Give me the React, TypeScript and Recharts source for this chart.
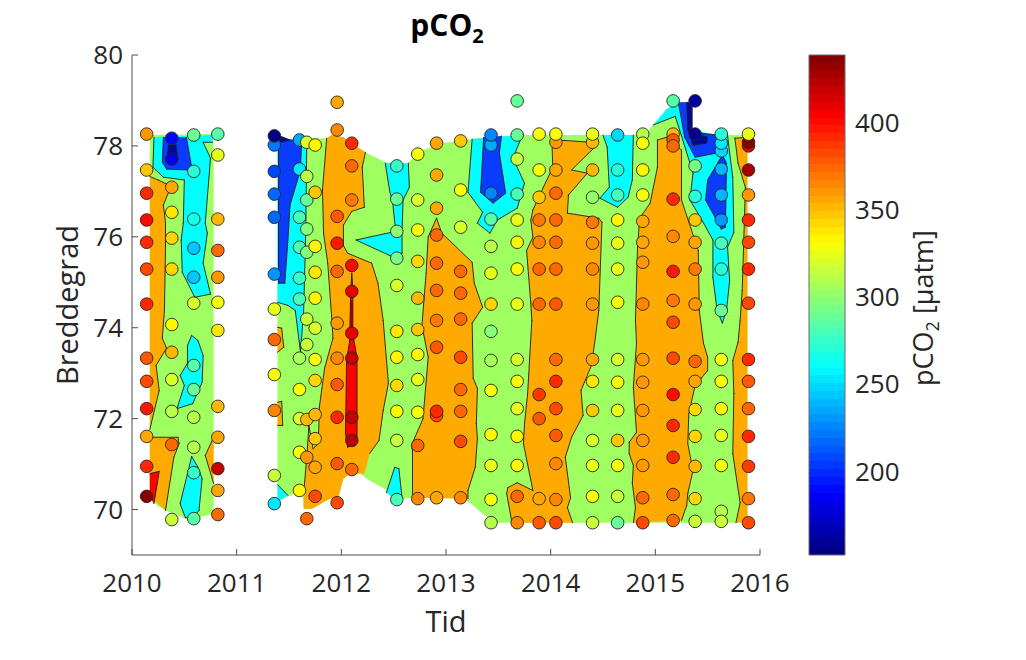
import { ScatterChart, Scatter, XAxis, YAxis } from "recharts";

type Pt = [number, number];
type Station = [number, number]; // latitude, pCO2

const FONT = "'Open Sans', sans-serif";
const GREEN = "#9fff60";
const ORANGE = "#ffaa00";
const CYAN = "#00ffff";
const BLUE = "#0a3cff";
const NAVY = "#000a96";
const RED = "#ff0000";

const yearTicks = [2010, 2011, 2012, 2013, 2014, 2015, 2016];
const latTicks = [70, 72, 74, 76, 78, 80];
const pco2Ticks = [200, 250, 300, 350, 400];
const PCO2_MIN = 152;
const PCO2_MAX = 439;

const cruiseYears = [
  2010.14, 2010.38, 2010.59, 2010.82, 2011.36, 2011.6, 2011.67, 2011.75, 2011.96, 2012.1, 2012.53, 2012.73, 2012.91,
  2013.14, 2013.43, 2013.68, 2013.89, 2014.05, 2014.4, 2014.64, 2014.88, 2015.17, 2015.38, 2015.63, 2015.89,
];

const c01: Station[] = [[78.26, 362], [77.47, 348], [76.96, 392], [76.37, 403], [75.88, 390], [75.29, 385], [74.52, 392], [73.33, 378], [72.82, 385], [72.22, 398], [71.61, 358], [70.95, 390], [70.29, 435]];
const c02: Station[] = [[78.17, 190], [77.71, 180], [77.09, 356], [76.54, 336], [75.97, 342], [75.29, 342], [74.07, 334], [73.46, 352], [72.86, 320], [72.16, 310], [71.43, 372], [69.78, 316]];
const c03: Station[] = [[78.24, 290], [77.44, 270], [76.39, 268], [75.75, 245], [75.11, 243], [74.54, 318], [73.17, 283], [72.64, 288], [72.03, 310], [71.37, 312], [70.81, 275], [69.8, 285]];
const c04: Station[] = [[78.26, 283], [77.8, 325], [76.39, 350], [75.7, 372], [75.11, 362], [74.56, 328], [73.94, 336], [72.27, 352], [71.59, 356], [70.9, 418], [70.42, 358], [69.89, 372]];
const c05: Station[] = [[78.02, 220], [77.44, 206], [76.94, 215], [76.43, 215], [75.18, 232], [74.41, 324], [73.74, 376], [72.97, 330], [72.18, 366], [70.75, 314], [70.13, 252], [78.22, 155]];
const c06: Station[] = [[78.13, 235], [77.49, 255], [76.43, 280], [75.77, 280], [75.09, 276], [74.63, 280], [73.33, 305], [72.64, 331], [72.0, 320], [71.26, 331], [70.42, 333]];
const c07: Station[] = [[78.08, 318], [77.33, 312], [76.81, 288], [76.17, 298], [75.66, 298], [74.19, 314], [73.63, 314], [71.98, 352], [71.15, 360], [69.8, 372]];
const c08: Station[] = [[78.02, 333], [76.98, 346], [75.79, 333], [75.22, 336], [74.65, 334], [73.99, 322], [73.3, 331], [72.84, 344], [72.09, 350], [71.56, 348], [70.93, 355], [70.29, 382]];
const c09: Station[] = [[78.96, 358], [78.35, 365], [76.45, 380], [75.86, 396], [75.24, 372], [74.1, 362], [73.33, 365], [72.75, 380], [72.03, 394], [71.01, 378], [70.15, 384]];
const c10: Station[] = [[78.06, 392], [77.56, 376], [76.81, 370], [75.37, 403], [74.8, 412], [73.88, 410], [73.33, 420], [72.03, 420], [71.52, 425], [70.88, 376]];
const c11: Station[] = [[77.56, 275], [76.83, 290], [76.12, 298], [75.53, 292], [74.93, 320], [73.92, 336], [73.35, 335], [72.73, 342], [72.16, 332], [71.52, 315], [70.22, 280]];
const c12: Station[] = [[77.82, 330], [76.81, 322], [76.15, 330], [75.46, 342], [74.65, 350], [73.96, 345], [73.41, 333], [72.86, 324], [72.14, 328], [71.41, 376], [70.24, 366]];
const c13: Station[] = [[78.06, 355], [77.36, 356], [76.63, 357], [76.04, 372], [75.42, 372], [74.82, 372], [74.16, 370], [73.57, 378], [72.07, 382], [72.16, 390], [70.26, 358]];
const c14: Station[] = [[78.11, 345], [77.03, 328], [76.21, 320], [75.24, 374], [74.76, 374], [74.19, 374], [73.35, 385], [72.64, 376], [72.16, 376], [71.5, 382], [70.26, 366]];
const c15: Station[] = [[78.02, 235], [78.24, 226], [76.96, 226], [76.39, 285], [75.79, 312], [75.2, 324], [74.52, 342], [73.92, 298], [73.28, 306], [72.62, 331], [71.65, 333], [70.97, 326], [70.22, 330], [69.71, 310]];
const c16: Station[] = [[78.99, 290], [78.24, 290], [77.71, 314], [76.94, 282], [76.37, 324], [75.88, 332], [75.29, 330], [74.52, 326], [73.3, 322], [72.82, 328], [72.22, 326], [71.61, 335], [70.97, 332], [70.29, 372], [69.71, 366]];
const c17: Station[] = [[78.26, 331], [77.47, 331], [76.87, 346], [76.37, 370], [75.88, 365], [75.29, 376], [74.52, 372], [72.53, 386], [72.0, 380], [70.24, 356], [69.71, 380]];
const c18: Station[] = [[78.08, 360], [78.26, 331], [77.47, 358], [76.96, 376], [76.37, 372], [75.88, 376], [75.29, 374], [74.52, 380], [73.3, 374], [72.82, 392], [72.22, 384], [71.63, 378], [71.01, 365], [70.22, 366], [69.71, 385]];
const c19: Station[] = [[78.08, 350], [78.26, 326], [77.47, 352], [76.87, 304], [76.32, 370], [75.86, 362], [75.29, 366], [74.52, 362], [73.3, 358], [72.82, 336], [72.18, 348], [71.52, 322], [70.97, 325], [70.29, 331], [69.71, 315]];
const c20: Station[] = [[78.24, 248], [77.47, 270], [76.92, 280], [76.37, 335], [75.86, 324], [75.29, 326], [74.56, 330], [73.3, 320], [72.8, 328], [72.18, 325], [71.52, 346], [70.97, 331], [70.29, 314], [69.71, 290]];
const c21: Station[] = [[78.26, 310], [78.06, 331], [77.47, 333], [76.92, 331], [76.34, 358], [75.88, 356], [75.44, 360], [74.52, 366], [73.3, 360], [72.8, 362], [72.18, 362], [71.52, 362], [70.97, 360], [70.26, 376], [69.71, 384]];
const c22: Station[] = [[78.99, 285], [78.26, 350], [78.13, 378], [78.0, 376], [76.83, 392], [76.01, 366], [75.24, 396], [74.6, 370], [74.12, 382], [73.33, 384], [72.53, 400], [71.85, 390], [71.15, 394], [70.33, 374], [69.76, 372]];
const c23: Station[] = [[78.99, 160], [78.26, 160], [77.56, 292], [76.89, 270], [76.37, 346], [75.88, 354], [75.29, 370], [74.52, 362], [73.26, 376], [72.82, 356], [72.2, 342], [71.61, 342], [70.95, 350], [70.24, 344], [69.74, 316]];
const c24: Station[] = [[77.89, 248], [78.06, 255], [78.26, 272], [77.49, 238], [76.92, 240], [76.37, 232], [75.86, 280], [75.29, 270], [74.38, 290], [73.3, 331], [72.82, 328], [72.22, 332], [71.63, 326], [70.97, 331], [69.96, 312], [69.74, 316]];
const c25: Station[] = [[78.0, 410], [78.08, 435], [78.26, 325], [77.47, 430], [76.92, 360], [76.37, 390], [75.88, 385], [75.29, 390], [74.54, 385], [73.3, 390], [72.82, 380], [72.22, 376], [71.61, 390], [70.95, 388], [70.24, 368], [69.71, 385]];
const cruises = [c01, c02, c03, c04, c05, c06, c07, c08, c09, c10, c11, c12, c13, c14, c15, c16, c17, c18, c19, c20, c21, c22, c23, c24, c25];

// contour bands as [year, latitude]
const base2010: Pt[] = [[2010.17, 78.24], [2010.78, 78.26], [2010.78, 69.91], [2010.58, 69.8], [2010.51, 69.8], [2010.32, 69.98], [2010.24, 70.09], [2010.17, 70.26]];
const baseMain: Pt[] = [[2011.39, 78.15], [2011.86, 78.17], [2011.91, 78.24], [2012.02, 78.19], [2012.1, 78.06], [2012.23, 77.86], [2012.42, 77.64], [2012.63, 77.62], [2012.78, 77.91], [2012.97, 78.06], [2013.25, 78.15], [2013.37, 78.19], [2013.74, 78.24], [2014.92, 78.24], [2014.95, 78.39], [2014.98, 78.46], [2015.06, 78.68], [2015.11, 78.81], [2015.22, 78.96], [2015.35, 78.96], [2015.35, 78.35], [2015.59, 78.24], [2015.88, 78.24], [2015.88, 69.71], [2013.49, 69.71], [2013.35, 69.91], [2013.23, 70.15], [2013.16, 70.26], [2012.68, 70.26], [2012.59, 70.24], [2012.44, 70.42], [2012.27, 70.64], [2012.18, 70.79], [2012.08, 70.79], [2012.02, 70.68], [2011.97, 70.26], [2011.89, 70.24], [2011.72, 70.02], [2011.64, 70.02], [2011.63, 70.44], [2011.51, 70.31], [2011.41, 70.2], [2011.39, 70.2]];

const orange2010a: Pt[] = [[2010.17, 77.33], [2010.25, 77.25], [2010.33, 77.16], [2010.35, 76.98], [2010.3, 76.7], [2010.32, 76.3], [2010.32, 75.77], [2010.31, 74.38], [2010.29, 73.77], [2010.33, 73.55], [2010.23, 73.17], [2010.26, 72.62], [2010.17, 71.76]];
const orange2010b: Pt[] = [[2010.17, 71.59], [2010.44, 71.59], [2010.45, 71.45], [2010.4, 71.15], [2010.32, 69.98], [2010.25, 70.13], [2010.17, 70.26]];
const red2010: Pt[] = [[2010.17, 70.79], [2010.26, 70.84], [2010.21, 70.13], [2010.17, 70.26]];
const orange2010c: Pt[] = [[2010.78, 71.59], [2010.7, 71.19], [2010.78, 70.57]];
const cyan2010a: Pt[] = [[2010.77, 78.24], [2010.77, 78.08], [2010.68, 78.08], [2010.75, 77.73], [2010.7, 76.3], [2010.72, 76.08], [2010.68, 75.42], [2010.75, 74.74], [2010.6, 74.67], [2010.48, 75.22], [2010.47, 75.93], [2010.49, 76.3], [2010.5, 77.25], [2010.3, 77.31], [2010.2, 77.53], [2010.21, 78.19]];
const blue2010: Pt[] = [[2010.3, 78.19], [2010.52, 78.19], [2010.57, 77.53], [2010.54, 77.47], [2010.33, 77.49], [2010.29, 77.64]];
const navy2010: Pt[] = [[2010.35, 78.02], [2010.42, 78.02], [2010.44, 77.69], [2010.38, 77.6], [2010.33, 77.69]];
const cyan2010b: Pt[] = [[2010.57, 73.83], [2010.63, 73.72], [2010.68, 73.39], [2010.67, 72.8], [2010.58, 72.33], [2010.43, 72.22], [2010.5, 72.73], [2010.46, 72.95], [2010.53, 73.22], [2010.53, 73.61]];
const cyan2010c: Pt[] = [[2010.57, 71.17], [2010.63, 70.93], [2010.67, 70.68], [2010.64, 69.98], [2010.58, 69.82], [2010.51, 69.82], [2010.46, 70.13], [2010.53, 70.79]];

const orange2012: Pt[] = [[2011.86, 78.17], [2011.82, 77.03], [2011.83, 76.08], [2011.87, 75.42], [2011.91, 74.16], [2011.92, 73.77], [2011.84, 73.11], [2011.79, 72.25], [2011.78, 71.45], [2011.73, 71.34], [2011.69, 71.85], [2011.67, 71.15], [2011.64, 70.35], [2011.64, 70.02], [2011.72, 70.02], [2011.89, 70.24], [2011.97, 70.26], [2012.02, 70.68], [2012.08, 70.79], [2012.18, 70.79], [2012.22, 70.79], [2012.27, 71.23], [2012.36, 71.52], [2012.4, 72.18], [2012.45, 72.78], [2012.4, 74.16], [2012.35, 74.98], [2012.29, 75.42], [2012.06, 75.64], [2012.02, 75.81], [2012.02, 76.26], [2012.1, 76.56], [2012.22, 76.65], [2012.2, 77.53], [2012.23, 77.86], [2012.1, 78.06], [2012.02, 78.19], [2011.91, 78.24]];
const orangeEdgeA: Pt[] = [[2011.39, 74.01], [2011.43, 73.99], [2011.45, 73.57], [2011.39, 73.46]];
const orangeEdgeB: Pt[] = [[2011.39, 72.36], [2011.43, 72.38], [2011.44, 71.85], [2011.39, 71.85]];
const cyan2011: Pt[] = [[2011.39, 78.15], [2011.67, 78.13], [2011.66, 76.08], [2011.64, 74.38], [2011.61, 73.46], [2011.56, 74.38], [2011.49, 74.49], [2011.39, 74.56]];
const blue2011: Pt[] = [[2011.4, 78.15], [2011.62, 78.13], [2011.61, 77.47], [2011.51, 76.7], [2011.49, 75.93], [2011.46, 74.98], [2011.4, 74.98]];
const navy2011: Pt[] = [[2011.39, 78.24], [2011.51, 78.13], [2011.39, 78.06]];
const cyan2011low: Pt[] = [[2011.39, 70.55], [2011.49, 70.31], [2011.41, 70.2], [2011.39, 70.2]];
const red2012: Pt[] = [[2012.1, 75.2], [2012.11, 74.82], [2012.11, 73.83], [2012.12, 73.72], [2012.15, 73.35], [2012.15, 71.59], [2012.13, 71.45], [2012.06, 71.37], [2012.04, 71.67], [2012.05, 73.28], [2012.08, 73.72], [2012.08, 73.83], [2012.09, 74.82]];
const darkRed2012: Pt[] = [[2012.09, 74.6], [2012.11, 74.6], [2012.11, 73.9], [2012.09, 73.9]];
const cyan2012: Pt[] = [[2012.42, 77.62], [2012.64, 77.62], [2012.65, 77.09], [2012.59, 76.81], [2012.58, 76.12], [2012.58, 75.64], [2012.48, 75.57], [2012.14, 75.93], [2012.52, 76.12], [2012.49, 76.76], [2012.46, 77.03]];
const cyan2012low: Pt[] = [[2012.51, 70.93], [2012.55, 70.9], [2012.58, 70.26], [2012.51, 70.24], [2012.43, 70.37]];
const orange2013: Pt[] = [[2012.91, 76.41], [2012.96, 76.08], [2013.25, 75.44], [2013.27, 74.98], [2013.35, 74.45], [2013.25, 74.1], [2013.26, 72.89], [2013.3, 72.67], [2013.29, 71.89], [2013.3, 71.56], [2013.28, 70.93], [2013.21, 70.42], [2013.21, 70.24], [2012.68, 70.26], [2012.68, 71.3], [2012.67, 71.41], [2012.78, 72.0], [2012.83, 73.35], [2012.77, 74.05], [2012.81, 75.2], [2012.83, 76.0]];
const cyan2013: Pt[] = [[2013.25, 78.15], [2013.73, 78.24], [2013.64, 77.73], [2013.75, 77.18], [2013.68, 76.63], [2013.49, 76.37], [2013.42, 76.08], [2013.3, 76.3], [2013.35, 76.54], [2013.21, 76.98]];
const blue2013: Pt[] = [[2013.36, 78.19], [2013.53, 78.22], [2013.51, 77.84], [2013.57, 76.96], [2013.45, 76.74], [2013.33, 76.98]];
const orange2014: Pt[] = [[2014.01, 78.24], [2014.02, 77.53], [2013.93, 77.09], [2013.83, 76.59], [2013.81, 76.37], [2013.83, 75.99], [2013.77, 75.7], [2013.81, 74.54], [2013.82, 74.16], [2013.78, 72.55], [2013.75, 71.89], [2013.74, 71.45], [2013.83, 70.42], [2013.68, 70.59], [2013.59, 70.48], [2013.58, 70.35], [2013.63, 69.71], [2014.21, 69.71], [2014.16, 70.04], [2014.19, 70.26], [2014.14, 71.15], [2014.2, 71.59], [2014.31, 72.07], [2014.29, 72.62], [2014.39, 73.17], [2014.42, 73.66], [2014.46, 74.38], [2014.49, 76.32], [2014.46, 76.41], [2014.16, 76.52], [2014.17, 76.92], [2014.35, 77.4], [2014.2, 77.47], [2014.42, 77.97], [2014.39, 78.08], [2014.06, 78.13]];
const cyan2014: Pt[] = [[2014.5, 78.24], [2014.79, 78.24], [2014.78, 77.25], [2014.74, 76.87], [2014.64, 76.65], [2014.47, 76.85], [2014.56, 77.09], [2014.54, 77.97]];
const orange2015: Pt[] = [[2015.02, 78.13], [2015.02, 77.53], [2014.95, 76.74], [2014.85, 76.41], [2014.83, 75.77], [2014.81, 74.16], [2014.82, 73.66], [2014.79, 72.69], [2014.82, 71.7], [2014.75, 71.48], [2014.75, 71.23], [2014.79, 70.97], [2014.78, 70.59], [2014.81, 70.04], [2014.79, 69.71], [2015.25, 69.76], [2015.3, 70.09], [2015.31, 70.35], [2015.36, 70.86], [2015.31, 71.45], [2015.32, 72.11], [2015.38, 72.73], [2015.44, 72.89], [2015.5, 73.06], [2015.5, 73.35], [2015.46, 73.66], [2015.42, 74.38], [2015.41, 75.7], [2015.25, 76.81], [2015.25, 77.91], [2015.11, 78.19]];
const cyan2015: Pt[] = [[2014.98, 78.46], [2015.06, 78.68], [2015.11, 78.81], [2015.22, 78.96], [2015.35, 78.96], [2015.35, 78.35], [2015.59, 78.24], [2015.69, 78.24], [2015.71, 77.84], [2015.74, 77.31], [2015.75, 76.1], [2015.69, 75.77], [2015.71, 75.04], [2015.68, 74.38], [2015.64, 74.1], [2015.59, 74.38], [2015.55, 75.11], [2015.55, 75.93], [2015.43, 76.43], [2015.33, 76.81], [2015.36, 77.4], [2015.25, 78.22], [2015.19, 78.65]];
const blue2015a: Pt[] = [[2015.22, 78.96], [2015.35, 78.96], [2015.35, 78.3], [2015.59, 78.24], [2015.58, 77.84], [2015.38, 77.75], [2015.28, 78.19]];
const navy2015: Pt[] = [[2015.3, 78.96], [2015.35, 78.96], [2015.35, 78.3], [2015.5, 78.19], [2015.49, 78.06], [2015.36, 78.02], [2015.31, 78.35]];
const blue2015b: Pt[] = [[2015.64, 77.8], [2015.68, 77.62], [2015.67, 76.21], [2015.63, 76.17], [2015.57, 76.43], [2015.48, 76.81], [2015.5, 77.25], [2015.6, 77.64]];
const orangeEast: Pt[] = [[2015.76, 78.17], [2015.88, 78.19], [2015.88, 69.74], [2015.77, 69.71], [2015.81, 70.15], [2015.74, 71.23], [2015.75, 72.55], [2015.74, 73.28], [2015.79, 73.68], [2015.81, 74.16], [2015.83, 74.82], [2015.85, 76.3], [2015.86, 77.09], [2015.79, 77.62]];

// open = indexes of the segments that lie on the data edge and get no contour line
const bands: { pts: Pt[]; fill: string; open?: number[]; noLine?: boolean }[] = [
  { pts: base2010, fill: GREEN, noLine: true },
  { pts: baseMain, fill: GREEN, noLine: true },
  { pts: orange2010a, fill: ORANGE, open: [12] },
  { pts: orange2010b, fill: ORANGE, open: [4, 5, 6] },
  { pts: red2010, fill: RED, open: [2, 3] },
  { pts: orange2010c, fill: ORANGE, open: [2] },
  { pts: cyan2010a, fill: CYAN, open: [0, 15] },
  { pts: blue2010, fill: BLUE, open: [0] },
  { pts: navy2010, fill: NAVY },
  { pts: cyan2010b, fill: CYAN },
  { pts: cyan2010c, fill: CYAN },
  { pts: orange2012, fill: ORANGE, open: [12, 13, 14, 15, 16, 17, 18, 19, 20, 34, 35, 36, 37] },
  { pts: orangeEdgeA, fill: ORANGE, open: [3] },
  { pts: orangeEdgeB, fill: ORANGE, open: [3] },
  { pts: cyan2011, fill: CYAN, open: [0, 7] },
  { pts: blue2011, fill: BLUE, open: [0] },
  { pts: navy2011, fill: NAVY, open: [2] },
  { pts: cyan2011low, fill: CYAN, open: [1, 2, 3] },
  { pts: red2012, fill: RED },
  { pts: darkRed2012, fill: "#a00000", noLine: true },
  { pts: cyan2012, fill: CYAN, open: [0] },
  { pts: cyan2012low, fill: CYAN, open: [2, 3] },
  { pts: orange2013, fill: ORANGE, open: [12] },
  { pts: cyan2013, fill: CYAN, open: [0] },
  { pts: blue2013, fill: BLUE, open: [0] },
  { pts: orange2014, fill: ORANGE, open: [16, 35] },
  { pts: cyan2014, fill: CYAN, open: [0] },
  { pts: orange2015, fill: ORANGE, open: [14] },
  { pts: cyan2015, fill: CYAN, open: [0, 1, 2, 3, 4, 5, 6] },
  { pts: blue2015a, fill: BLUE, open: [0] },
  { pts: navy2015, fill: NAVY, open: [0] },
  { pts: blue2015b, fill: BLUE },
  { pts: orangeEast, fill: ORANGE, open: [1, 2] },
];

const clamp = (v: number) => Math.max(0, Math.min(1, v));

function jet(t: number) {
  const r = clamp(Math.min(4 * t - 1.5, -4 * t + 4.5));
  const g = clamp(Math.min(4 * t - 0.5, -4 * t + 3.5));
  const b = clamp(Math.min(4 * t + 0.5, -4 * t + 2.5));
  return `rgb(${Math.round(r * 255)},${Math.round(g * 255)},${Math.round(b * 255)})`;
}

const pco2Color = (v: number) => {
  const level = Math.min(63, Math.floor(((v - PCO2_MIN) / (PCO2_MAX - PCO2_MIN)) * 64));
  return jet((level + 0.5) / 64);
};

const colorLevels = Array.from({ length: 64 }, (_, i) => i);
const LEVEL_STEP = (PCO2_MAX - PCO2_MIN) / 64;

const stations = cruises.flatMap((c, i) => c.map(([lat, v]) => ({ x: cruiseYears[i], y: lat, v })));

const bandLine = (fill: string, open: number[] = [], noLine = false, crisp = false) => (props: any) => {
  const p: { x: number; y: number }[] = props.points;
  const d = p.map((q, i) => `${i ? "L" : "M"}${q.x},${q.y}`).join("") + "Z";
  const line = p
    .map((q, i) => {
      if (open.includes(i)) return "";
      const n = p[(i + 1) % p.length];
      return `M${q.x},${q.y}L${n.x},${n.y}`;
    })
    .join("");
  return (
    <g>
      <path d={d} fill={fill} stroke="none" shapeRendering={crisp ? "crispEdges" : undefined} />
      {!noLine && <path d={line} fill="none" stroke="#1c1c1c" strokeWidth={0.9} strokeLinecap="round" />}
    </g>
  );
};

const barOutline = (props: any) => {
  const p: { x: number; y: number }[] = props.points;
  const d = p.map((q, i) => `${i ? "L" : "M"}${q.x},${q.y}`).join("") + "Z";
  return <path d={d} fill="none" stroke="#6a6a6a" strokeWidth={1} />;
};

const noDot = () => <g />;

const stationDot = (props: any) => (
  <circle cx={props.cx} cy={props.cy} r={6.3} fill={pco2Color(props.payload.v)} stroke="#262626" strokeWidth={0.9} />
);

const tickStyle = { fill: "#262626", fontSize: 26, fontFamily: FONT };
const labelStyle = { fill: "#262626", fontSize: 29, fontFamily: FONT };

export default function App() {
  return (
    <div style={{ position: "absolute", left: 0, top: 0, width: 1026, height: 660, background: "#fff", fontFamily: FONT, overflow: "hidden" }}>
      <div style={{ position: "absolute", left: 347, width: 200, top: 4, textAlign: "center", fontSize: 30, fontWeight: 700, color: "#000" }}>
        pCO<sub style={{ fontSize: 20 }}>2</sub>
      </div>

      <div style={{ position: "absolute", left: 0, top: 0 }}>
        <ScatterChart width={1026} height={660} margin={{ left: 32, top: 55, right: 266, bottom: 55 }}>
          {bands.map((b, i) => (
            <Scatter
              key={i}
              data={b.pts.map(([x, y]) => ({ x, y }))}
              shape={noDot}
              line={bandLine(b.fill, b.open, b.noLine)}
              isAnimationActive={false}
            />
          ))}
          <Scatter data={stations} shape={stationDot} isAnimationActive={false} />
          <XAxis
            type="number"
            dataKey="x"
            domain={[2010, 2016]}
            ticks={yearTicks}
            allowDecimals={false}
            height={50}
            stroke="#4d4d4d"
            tick={tickStyle}
            tickSize={-6}
            tickMargin={25}
            label={{ value: "Tid", position: "bottom", offset: 6, style: labelStyle }}
          />
          <YAxis
            type="number"
            dataKey="y"
            domain={[69, 80]}
            ticks={latTicks}
            width={100}
            stroke="#4d4d4d"
            tick={tickStyle}
            tickSize={-6}
            tickMargin={15}
            label={{ value: "Breddegrad", angle: -90, position: "left", offset: -36, style: { ...labelStyle, textAnchor: "middle" } }}
          />
        </ScatterChart>
      </div>

      <div style={{ position: "absolute", left: 780, top: 0 }}>
        <ScatterChart width={246} height={660} margin={{ left: 29, top: 55, right: 0, bottom: 105 }}>
          {colorLevels.map((i) => {
            const lo = PCO2_MIN + i * LEVEL_STEP;
            const hi = lo + LEVEL_STEP;
            return (
              <Scatter
                key={i}
                data={[{ x: 0, y: lo }, { x: 1, y: lo }, { x: 1, y: hi }, { x: 0, y: hi }]}
                shape={noDot}
                line={bandLine(jet((i + 0.5) / 64), [], true, true)}
                isAnimationActive={false}
              />
            );
          })}
          <Scatter
            data={[{ x: 0, y: PCO2_MIN }, { x: 1, y: PCO2_MIN }, { x: 1, y: PCO2_MAX }, { x: 0, y: PCO2_MAX }]}
            shape={noDot}
            line={barOutline}
            isAnimationActive={false}
          />
          <XAxis type="number" dataKey="x" domain={[0, 1]} hide />
          <YAxis
            type="number"
            dataKey="y"
            orientation="right"
            domain={[PCO2_MIN, PCO2_MAX]}
            ticks={pco2Ticks}
            width={181}
            axisLine={false}
            stroke="#4d4d4d"
            tick={{ ...tickStyle, textAnchor: "start" }}
            tickSize={-5}
            tickMargin={15}
          />
        </ScatterChart>
      </div>

      <div
        style={{
          position: "absolute",
          left: 924,
          top: 308,
          transform: "translate(-50%,-50%) rotate(-90deg)",
          whiteSpace: "nowrap",
          fontSize: 27,
          color: "#262626",
        }}
      >
        pCO<sub style={{ fontSize: 18 }}>2</sub> [µatm]
      </div>
    </div>
  );
}
